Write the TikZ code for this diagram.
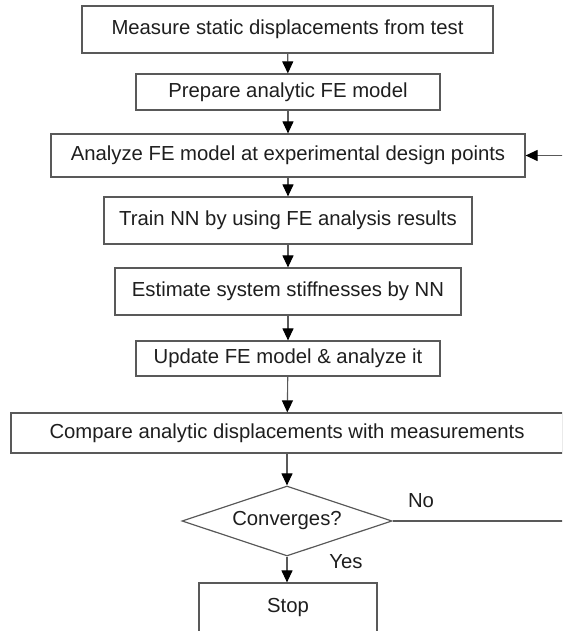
\documentclass[tikz,border=0pt]{standalone}
\usepackage{fontspec}
\setmainfont{Liberation Sans}
\usepackage{tikz}
\usetikzlibrary{arrows.meta, shapes.geometric}
\definecolor{linegray}{HTML}{595959}
\definecolor{inkgray}{HTML}{1E1E1E}

\tikzset{
    stepbox/.style={draw=linegray, line width=1.2pt, inner sep=0pt, text=inkgray,
        font=\fontsize{20.3}{24}\selectfont},
    decision/.style={diamond, draw=linegray, line width=1.2pt, inner sep=0pt, aspect=3,
        text=inkgray, font=\fontsize{20.3}{24}\selectfont},
    flow/.style={draw=linegray, line width=1.1pt, -{Triangle[length=12pt, width=11pt, color=black]}},
    tag/.style={text=inkgray, font=\fontsize{20.3}{24}\selectfont}
}

\begin{document}
\begin{tikzpicture}[x=1pt, y=-1pt]
    \path[use as bounding box] (0,0) rectangle (562,631);
    \clip (0,0) rectangle (562,631);

    % Steps
    \node[stepbox, minimum width=411pt, minimum height=47pt] (measure) at (287.5, 29.5) {Measure static displacements from test};
    \node[stepbox, minimum width=304pt, minimum height=36pt] (prepare) at (288, 92) {Prepare analytic FE model};
    \node[stepbox, minimum width=474pt, minimum height=43pt] (analyze) at (288, 155.5) {Analyze FE model at experimental design points};
    \node[stepbox, minimum width=368pt, minimum height=47pt] (train) at (288, 220.5) {Train NN by using FE analysis results};
    \node[stepbox, minimum width=346pt, minimum height=47pt] (estimate) at (288, 291.5) {Estimate system stiffnesses by NN};
    \node[stepbox, minimum width=304pt, minimum height=35pt] (update) at (288, 358.5) {Update FE model \& analyze it};
    \node[stepbox, minimum width=552pt, minimum height=40pt] (compare) at (287, 433) {Compare analytic displacements with measurements};
    \node[decision, minimum width=210pt, minimum height=70pt] (converge) at (287, 521) {Converges?};
    \node[stepbox, minimum width=178pt, minimum height=50pt] (stop) at (288, 608) {Stop};

    % Flow
    \draw[flow] (measure) -- (prepare);
    \draw[flow] (prepare) -- (analyze);
    \draw[flow] (analyze) -- (train);
    \draw[flow] (train) -- (estimate);
    \draw[flow] (estimate) -- (update);
    \draw[flow] (update) -- (compare);
    \draw[flow] (compare) -- (converge);
    \draw[flow] (converge.south) -- (stop.north -| converge.south);

    % Loop back
    \coordinate (turn) at (572, 521);
    \draw[flow] (converge.east) -- (turn) |- (analyze.east);
    \node[tag] (no) at (421, 501) {No};
    \node[tag] (yes) at (346, 562) {Yes};
\end{tikzpicture}
\end{document}
